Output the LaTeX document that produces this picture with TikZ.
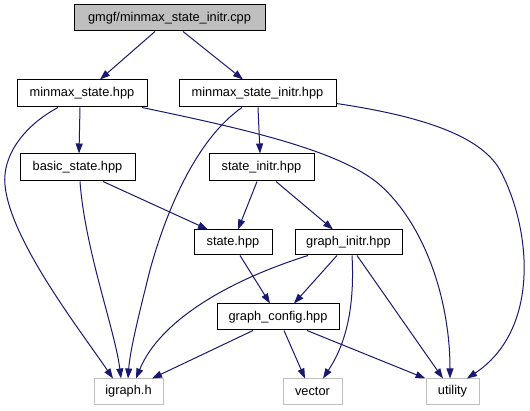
\documentclass[tikz,border=0pt]{standalone}
\usepackage{fontspec}
\setmainfont{Liberation Sans}
\usetikzlibrary{arrows.meta}
\definecolor{edgeblue}{HTML}{191970}
\definecolor{lgray}{HTML}{BFBFBF}
\tikzset{
  box/.style={draw=black, line width=1pt, fill=white, inner sep=0pt, font=\fontsize{12.8}{14}\selectfont, text=black},
  extbox/.style={box, draw=lgray},
  mainbox/.style={box, fill=lgray},
  dep/.style={draw=edgeblue, line width=1pt, -{Triangle[length=10pt,width=7pt]}, fill=none},
}
\begin{document}
\begin{tikzpicture}[x=1pt,y=-1pt]
\useasboundingbox (0,0) rectangle (530,411);
\fill[white] (0,0) rectangle (530,411);
\node[mainbox, minimum width=191pt, minimum height=26pt] (cpp) at (169.5,18) {gmgf/minmax\_state\_initr.cpp};
\node[box, minimum width=130pt, minimum height=27pt] (ms) at (82,93.5) {minmax\_state.hpp};
\node[box, minimum width=157pt, minimum height=27pt] (msi) at (257.5,93.5) {minmax\_state\_initr.hpp};
\node[box, minimum width=115pt, minimum height=27pt] (bs) at (77.5,167.5) {basic\_state.hpp};
\node[box, minimum width=105pt, minimum height=27pt] (si) at (261.5,167.5) {state\_initr.hpp};
\node[box, minimum width=78pt, minimum height=25pt] (st) at (233,242.5) {state.hpp};
\node[box, minimum width=107pt, minimum height=25pt] (gi) at (348.5,242.5) {graph\_initr.hpp};
\node[box, minimum width=122pt, minimum height=26pt] (gc) at (278,317) {graph\_config.hpp};
\node[extbox, minimum width=69pt, minimum height=25pt] (ig) at (128.5,391.5) {igraph.h};
\node[extbox, minimum width=59pt, minimum height=25pt] (ve) at (312.5,391.5) {vector};
\node[extbox, minimum width=53pt, minimum height=25pt] (ut) at (452.5,391.5) {utility};

\draw[dep] ([xshift=-14.5pt]cpp.south) -- ([xshift=18pt]ms.north);
\draw[dep] ([xshift=13.5pt]cpp.south) -- ([xshift=-14.5pt]msi.north);
\draw[dep] ([xshift=-2pt]ms.south) -- ([xshift=1.5pt]bs.north);
\draw[dep] ([xshift=-24pt]ms.south) .. controls (25,125) and (2,155) .. (5,185) .. controls (10,240) and (80,330) .. ([xshift=-15.5pt]ig.north);
\draw[dep] ([xshift=60pt]ms.south) .. controls (240,128) and (340,150) .. (380,185) .. controls (425,225) and (450,300) .. ([xshift=-2.5pt]ut.north);
\draw[dep] ([xshift=-15.5pt]msi.south) .. controls (195,140) and (165,215) .. (150,270) .. controls (140,310) and (130,350) .. ([xshift=-0.5pt]ig.north);
\draw[dep] ([xshift=0.5pt]msi.south) -- ([xshift=-1.5pt]si.north);
\draw[dep] ([yshift=4pt]msi.south east) .. controls (420,116) and (480,135) .. (500,170) .. controls (532,230) and (540,330) .. ([xshift=14.5pt]ut.north);
\draw[dep] ([xshift=2.5pt]bs.south) .. controls (85,250) and (115,330) .. ([xshift=-7.5pt]ig.north);
\draw[dep] ([xshift=25.5pt]bs.south) -- ([xshift=-25pt]st.north);
\draw[dep] ([xshift=-4.5pt]si.south) -- ([xshift=5pt]st.north);
\draw[dep] ([xshift=14.5pt]si.south) -- ([xshift=-15.5pt]gi.north);
\draw[dep] ([xshift=7pt]st.south) -- ([xshift=-8pt]gc.north);
\draw[dep] ([xshift=-40.5pt]gi.south) .. controls (230,280) and (160,320) .. ([xshift=7.5pt]ig.north);
\draw[dep] ([xshift=-11.5pt]gi.south) -- ([xshift=16pt]gc.north);
\draw[dep] ([xshift=3.5pt]gi.south) .. controls (355,310) and (345,345) .. ([xshift=10.5pt]ve.north);
\draw[dep] ([xshift=8.5pt]gi.south) -- ([xshift=-9.5pt]ut.north);
\draw[dep] ([xshift=-25pt]gc.south) -- ([xshift=23.5pt]ig.north);
\draw[dep] ([xshift=6pt]gc.south) -- ([xshift=-7.5pt]ve.north);
\draw[dep] ([xshift=29pt]gc.south) -- (ut.north west);
\end{tikzpicture}
\end{document}
